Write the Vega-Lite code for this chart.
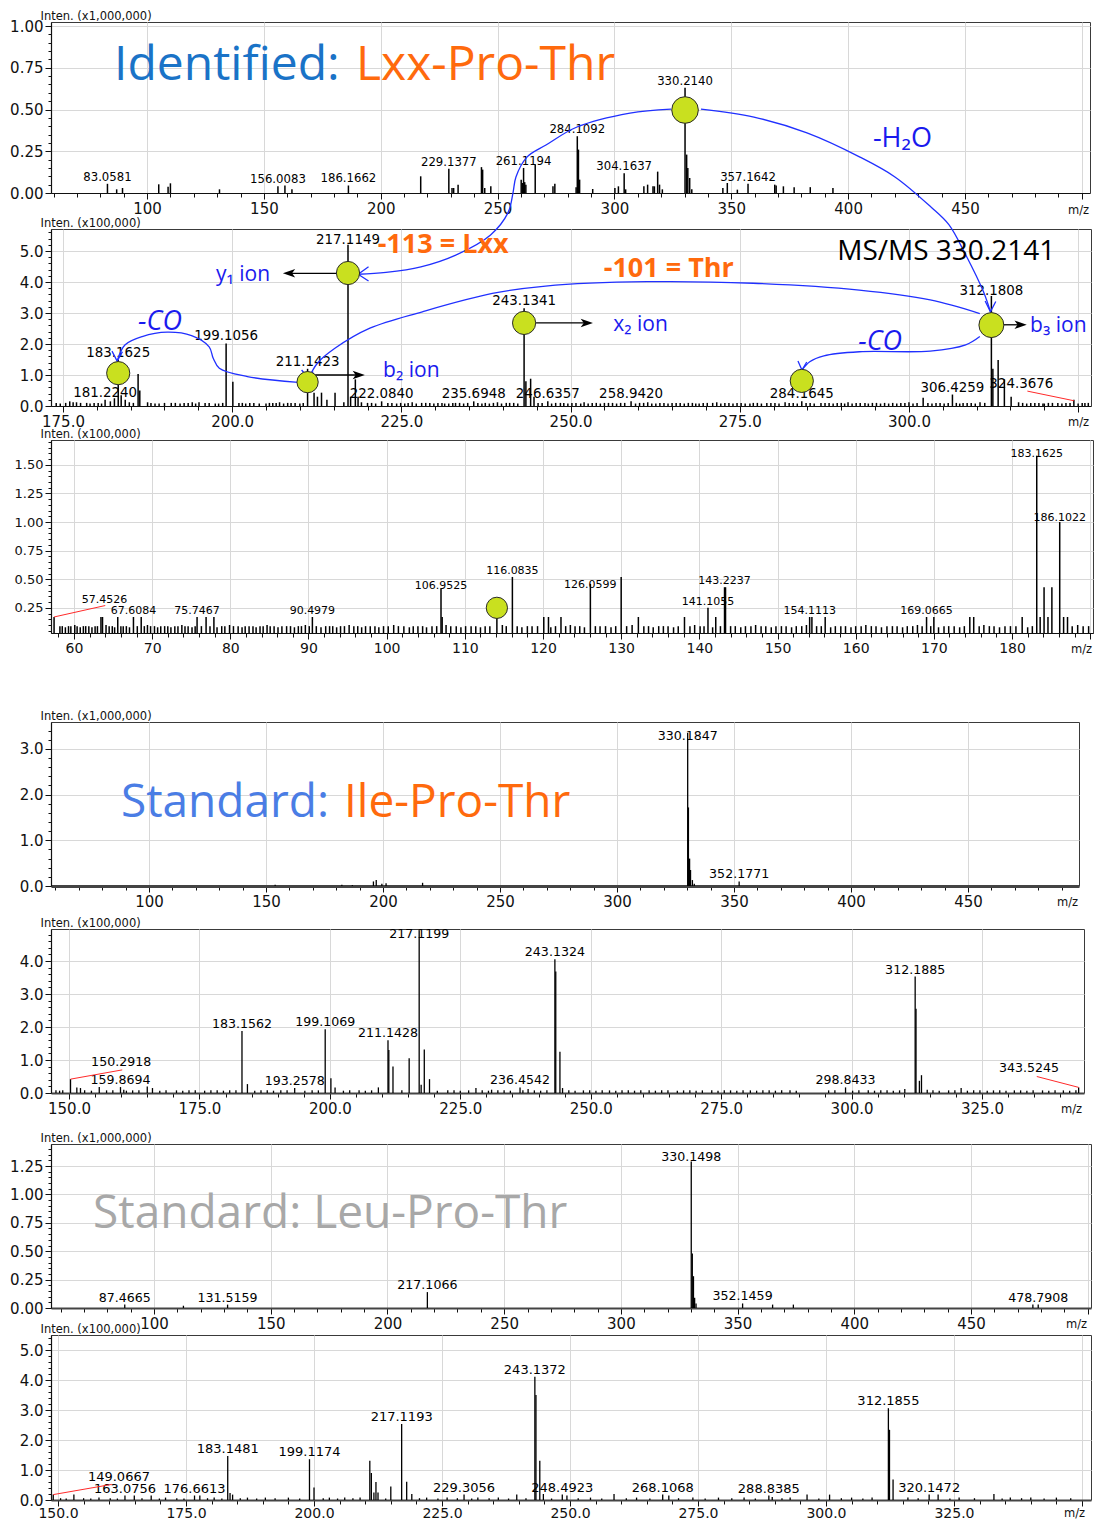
{
  "$schema": "https://vega.github.io/schema/vega-lite/v6.json",
  "background": "white",
  "padding": {"left": 9, "top": 9, "right": 0, "bottom": 0},
  "spacing": 0,
  "bounds": "flush",
  "config": {
    "view": {"stroke": "#3a3a3a", "strokeWidth": 1},
    "axis": {
      "labelFont": "DejaVu Sans", "labelFontSize": 15, "labelColor": "#111",
      "titleFont": "DejaVu Sans", "titleFontWeight": "normal", "titleColor": "#111",
      "domainColor": "#111", "domainWidth": 1.2, "tickColor": "#111", "tickWidth": 1,
      "gridColor": "#d8d8d8", "gridWidth": 1,
      "labelOverlap": false, "labelFlush": false, "labelBound": false, "labelPadding": 2
    }
  },
  "datasets": {
    "p1": [
      {"mz":83.0581,"i":0.055},{"mz":87.0,"i":0.022},{"mz":89.5,"i":0.03},{"mz":105.0,"i":0.052},{"mz":109.0,"i":0.038},{"mz":110.0,"i":0.058},{"mz":131.0,"i":0.022},{"mz":156.0083,"i":0.04},{"mz":159.0,"i":0.045},{"mz":162.0,"i":0.022},{"mz":186.1662,"i":0.045},{"mz":217.1,"i":0.1},{"mz":229.1377,"i":0.145},{"mz":230.5,"i":0.03},{"mz":231.2,"i":0.03},{"mz":233.1,"i":0.05},{"mz":243.1,"i":0.155},{"mz":243.6,"i":0.14},{"mz":244.5,"i":0.03},{"mz":247.1,"i":0.04},{"mz":260.1,"i":0.08},{"mz":260.6,"i":0.06},{"mz":261.1194,"i":0.15},{"mz":261.6,"i":0.065},{"mz":262.1,"i":0.05},{"mz":266.1,"i":0.17},{"mz":273.7,"i":0.04},{"mz":274.5,"i":0.055},{"mz":283.6,"i":0.035},{"mz":284.1092,"i":0.34},{"mz":284.6,"i":0.26},{"mz":285.1,"i":0.08},{"mz":290.7,"i":0.024},{"mz":300.2,"i":0.03},{"mz":301.7,"i":0.04},{"mz":304.1637,"i":0.118},{"mz":304.8,"i":0.022},{"mz":312.6,"i":0.04},{"mz":314.2,"i":0.05},{"mz":316.5,"i":0.04},{"mz":317.1,"i":0.04},{"mz":318.5,"i":0.128},{"mz":319.3,"i":0.05},{"mz":320.5,"i":0.022},{"mz":330.214,"i":0.63},{"mz":330.9,"i":0.23},{"mz":331.4,"i":0.15},{"mz":332.2,"i":0.09},{"mz":333.1,"i":0.022},{"mz":346.4,"i":0.03},{"mz":348.3,"i":0.06},{"mz":352.6,"i":0.02},{"mz":357.1642,"i":0.055},{"mz":368.6,"i":0.05},{"mz":369.2,"i":0.045},{"mz":372.3,"i":0.04},{"mz":376.9,"i":0.035},{"mz":383.8,"i":0.035},{"mz":393.5,"i":0.03}
    ],
    "l1": [
      {"t":"83.0581","mz":83.0581,"i":0.055},{"t":"156.0083","mz":156.0083,"i":0.04},{"t":"186.1662","mz":186.1662,"i":0.045},{"t":"229.1377","mz":229.1377,"i":0.145},{"t":"261.1194","mz":261.1194,"i":0.15},{"t":"284.1092","mz":284.1092,"i":0.34},{"t":"304.1637","mz":304.1637,"i":0.118},{"t":"330.2140","mz":330.214,"i":0.63},{"t":"357.1642","mz":357.1642,"i":0.055}
    ],
    "p2": [
      {"mz":176.0,"i":0.15},{"mz":176.5,"i":0.12},{"mz":178.5,"i":0.1},{"mz":181.224,"i":0.2},{"mz":182.0,"i":0.15},{"mz":182.6,"i":0.25},{"mz":183.1625,"i":1.5},{"mz":183.6,"i":0.35},{"mz":184.2,"i":0.2},{"mz":184.8,"i":0.12},{"mz":186.1,"i":1.03},{"mz":186.35,"i":0.5},{"mz":187.5,"i":0.12},{"mz":189.2,"i":0.08},{"mz":191.0,"i":0.1},{"mz":195.1,"i":0.12},{"mz":197.5,"i":0.08},{"mz":199.1056,"i":2.02},{"mz":200.1,"i":0.78},{"mz":201.5,"i":0.1},{"mz":204.0,"i":0.08},{"mz":206.5,"i":0.1},{"mz":209.3,"i":0.1},{"mz":211.1423,"i":1.2},{"mz":212.1,"i":0.43},{"mz":212.6,"i":0.3},{"mz":213.2,"i":0.43},{"mz":214.0,"i":0.2},{"mz":215.2,"i":0.43},{"mz":216.5,"i":0.12},{"mz":217.1149,"i":5.2},{"mz":217.5,"i":0.3},{"mz":218.2,"i":0.86},{"mz":218.6,"i":0.3},{"mz":219.1,"i":0.12},{"mz":220.0,"i":0.1},{"mz":222.084,"i":0.15},{"mz":225.5,"i":0.08},{"mz":228.0,"i":0.1},{"mz":231.4,"i":0.08},{"mz":233.0,"i":0.1},{"mz":235.6948,"i":0.15},{"mz":238.0,"i":0.08},{"mz":240.5,"i":0.1},{"mz":243.1341,"i":3.15},{"mz":243.4,"i":0.8},{"mz":244.1,"i":0.88},{"mz":244.6,"i":0.3},{"mz":246.6357,"i":0.15},{"mz":248.5,"i":0.1},{"mz":251.5,"i":0.08},{"mz":255.0,"i":0.1},{"mz":258.942,"i":0.15},{"mz":262.0,"i":0.08},{"mz":265.6,"i":0.1},{"mz":268.5,"i":0.08},{"mz":271.0,"i":0.1},{"mz":276.5,"i":0.08},{"mz":279.0,"i":0.1},{"mz":281.7,"i":0.12},{"mz":284.1645,"i":0.15},{"mz":287.0,"i":0.1},{"mz":290.5,"i":0.08},{"mz":293.5,"i":0.1},{"mz":297.0,"i":0.08},{"mz":302.1,"i":0.27},{"mz":306.4259,"i":0.37},{"mz":308.0,"i":0.1},{"mz":310.5,"i":0.12},{"mz":312.1808,"i":3.55},{"mz":312.4,"i":1.2},{"mz":313.18,"i":1.48},{"mz":314.1,"i":0.86},{"mz":315.1,"i":0.3},{"mz":316.2,"i":0.12},{"mz":318.0,"i":0.1},{"mz":320.0,"i":0.08},{"mz":322.0,"i":0.1},{"mz":324.3676,"i":0.2},{"mz":326.0,"i":0.1},
      {"mz":174.0,"i":0.1},{"mz":174.6,"i":0.08},{"mz":175.4,"i":0.1},{"mz":177.0,"i":0.12},{"mz":177.6,"i":0.1},{"mz":179.0,"i":0.08},{"mz":179.6,"i":0.1},{"mz":180.2,"i":0.1},{"mz":180.7,"i":0.08},{"mz":185.4,"i":0.1},{"mz":188.0,"i":0.1},{"mz":188.6,"i":0.08},{"mz":190.0,"i":0.1},{"mz":191.6,"i":0.1},{"mz":192.3,"i":0.08},{"mz":192.9,"i":0.1},{"mz":193.5,"i":0.1},{"mz":194.1,"i":0.12},{"mz":194.6,"i":0.08},{"mz":196.0,"i":0.1},{"mz":196.6,"i":0.1},{"mz":198.0,"i":0.08},{"mz":198.6,"i":0.1},{"mz":201.0,"i":0.1},{"mz":202.0,"i":0.08},{"mz":202.6,"i":0.1},{"mz":203.2,"i":0.1},{"mz":205.0,"i":0.08},{"mz":205.5,"i":0.1},{"mz":206.0,"i":0.1},{"mz":207.0,"i":0.12},{"mz":207.6,"i":0.08},{"mz":208.2,"i":0.1},{"mz":208.7,"i":0.1},{"mz":210.0,"i":0.08},{"mz":210.5,"i":0.1},{"mz":220.6,"i":0.1},{"mz":221.2,"i":0.08},{"mz":223.0,"i":0.1},{"mz":223.6,"i":0.1},{"mz":224.3,"i":0.08},{"mz":224.9,"i":0.1},{"mz":226.0,"i":0.1},{"mz":226.6,"i":0.12},{"mz":227.2,"i":0.08},{"mz":228.6,"i":0.1},{"mz":229.2,"i":0.1},{"mz":229.8,"i":0.08},{"mz":230.4,"i":0.1},{"mz":231.0,"i":0.1},{"mz":232.0,"i":0.08},{"mz":232.6,"i":0.1},{"mz":233.6,"i":0.1},{"mz":234.2,"i":0.08},{"mz":234.8,"i":0.1},{"mz":236.3,"i":0.1},{"mz":236.9,"i":0.08},{"mz":237.4,"i":0.1},{"mz":238.6,"i":0.1},{"mz":239.2,"i":0.12},{"mz":239.8,"i":0.08},{"mz":241.0,"i":0.1},{"mz":241.6,"i":0.1},{"mz":242.2,"i":0.08},{"mz":245.2,"i":0.1},{"mz":245.8,"i":0.1},{"mz":247.2,"i":0.08},{"mz":247.8,"i":0.1},{"mz":249.0,"i":0.1},{"mz":249.6,"i":0.08},{"mz":250.2,"i":0.1},{"mz":250.8,"i":0.1},{"mz":252.0,"i":0.12},{"mz":252.6,"i":0.08},{"mz":253.2,"i":0.1},{"mz":253.8,"i":0.1},{"mz":254.4,"i":0.08},{"mz":255.6,"i":0.1},{"mz":256.2,"i":0.1},{"mz":256.8,"i":0.08},{"mz":257.4,"i":0.1},{"mz":258.0,"i":0.1},{"mz":259.6,"i":0.08},{"mz":260.2,"i":0.1},{"mz":260.8,"i":0.1},{"mz":261.4,"i":0.12},{"mz":262.6,"i":0.08},{"mz":263.2,"i":0.1},{"mz":263.8,"i":0.1},{"mz":264.4,"i":0.08},{"mz":265.0,"i":0.1},{"mz":266.2,"i":0.1},{"mz":266.8,"i":0.08},{"mz":267.4,"i":0.1},{"mz":268.0,"i":0.1},{"mz":269.0,"i":0.08},{"mz":269.6,"i":0.1},{"mz":270.2,"i":0.1},{"mz":271.6,"i":0.12},{"mz":272.2,"i":0.08},{"mz":272.8,"i":0.1},{"mz":273.4,"i":0.1},{"mz":274.0,"i":0.08},{"mz":274.6,"i":0.1},{"mz":275.2,"i":0.1},{"mz":275.8,"i":0.08},{"mz":277.0,"i":0.1},{"mz":277.6,"i":0.1},{"mz":278.2,"i":0.08},{"mz":279.6,"i":0.1},{"mz":280.2,"i":0.1},{"mz":280.8,"i":0.08},{"mz":282.3,"i":0.1},{"mz":282.9,"i":0.1},{"mz":283.5,"i":0.08},{"mz":284.8,"i":0.1},{"mz":285.4,"i":0.1},{"mz":286.0,"i":0.08},{"mz":287.6,"i":0.1},{"mz":288.2,"i":0.1},{"mz":288.8,"i":0.08},{"mz":289.4,"i":0.1},{"mz":290.0,"i":0.1},{"mz":291.0,"i":0.12},{"mz":291.6,"i":0.08},{"mz":292.2,"i":0.1},{"mz":292.8,"i":0.1},{"mz":294.0,"i":0.08},{"mz":294.6,"i":0.1},{"mz":295.2,"i":0.1},{"mz":295.8,"i":0.08},{"mz":296.4,"i":0.1},{"mz":297.6,"i":0.1},{"mz":298.2,"i":0.08},{"mz":298.8,"i":0.1},{"mz":299.4,"i":0.1},{"mz":300.0,"i":0.12},{"mz":300.6,"i":0.08},{"mz":301.2,"i":0.1},{"mz":302.8,"i":0.1},{"mz":303.4,"i":0.08},{"mz":304.0,"i":0.1},{"mz":304.6,"i":0.1},{"mz":305.2,"i":0.08},{"mz":305.8,"i":0.1},{"mz":307.0,"i":0.1},{"mz":307.5,"i":0.08},{"mz":308.6,"i":0.1},{"mz":309.2,"i":0.1},{"mz":309.8,"i":0.08},{"mz":311.2,"i":0.1},{"mz":316.8,"i":0.1},{"mz":317.4,"i":0.08},{"mz":318.6,"i":0.1},{"mz":319.2,"i":0.1},{"mz":319.8,"i":0.08},{"mz":320.6,"i":0.1},{"mz":321.2,"i":0.1},{"mz":322.6,"i":0.08},{"mz":323.2,"i":0.1},{"mz":323.8,"i":0.1},{"mz":325.0,"i":0.08},{"mz":325.6,"i":0.1},{"mz":326.5,"i":0.1}
    ],
    "l2": [
      {"t":"181.2240","mz":181.224,"i":0.2},{"t":"183.1625","mz":183.1625,"i":1.5},{"t":"199.1056","mz":199.1056,"i":2.02},{"t":"211.1423","mz":211.1423,"i":1.2},{"t":"217.1149","mz":217.1149,"i":5.13},{"t":"222.0840","mz":222.084,"i":0.15},{"t":"235.6948","mz":235.6948,"i":0.15},{"t":"243.1341","mz":243.1341,"i":3.15},{"t":"246.6357","mz":246.6357,"i":0.15},{"t":"258.9420","mz":258.942,"i":0.15},{"t":"284.1645","mz":284.1645,"i":0.15},{"t":"306.4259","mz":306.4259,"i":0.37},{"t":"312.1808","mz":312.1808,"i":3.5},{"t":"324.3676","mz":316.6,"i":0.5}
    ],
    "cv": [
      {"id":"h2o_r","k":0,"mz":269.27,"i":9.58},{"id":"h2o_r","k":1,"mz":277.1,"i":9.32},{"id":"h2o_r","k":2,"mz":284.93,"i":8.81},{"id":"h2o_r","k":3,"mz":292.76,"i":8.03},{"id":"h2o_r","k":4,"mz":297.93,"i":7.39},{"id":"h2o_r","k":5,"mz":303.25,"i":6.42},{"id":"h2o_r","k":6,"mz":305.9,"i":5.85},{"id":"h2o_r","k":7,"mz":308.4,"i":4.87},{"id":"h2o_r","k":8,"mz":311.0,"i":3.69},{"id":"h2o_r","k":9,"mz":312.04,"i":3.04},
      {"id":"h2o_l","k":0,"mz":264.84,"i":9.58},{"id":"h2o_l","k":1,"mz":258.78,"i":9.45},{"id":"h2o_l","k":2,"mz":250.95,"i":9.0},{"id":"h2o_l","k":3,"mz":246.37,"i":8.42},{"id":"h2o_l","k":4,"mz":243.56,"i":8.03},{"id":"h2o_l","k":5,"mz":241.93,"i":7.39},{"id":"h2o_l","k":6,"mz":241.49,"i":6.87},{"id":"h2o_l","k":7,"mz":240.75,"i":6.23},{"id":"h2o_l","k":8,"mz":238.18,"i":5.52},{"id":"h2o_l","k":9,"mz":233.04,"i":4.87},{"id":"h2o_l","k":10,"mz":227.88,"i":4.49},{"id":"h2o_l","k":11,"mz":222.73,"i":4.31},{"id":"h2o_l","k":12,"mz":218.62,"i":4.25},
      {"id":"thr","k":0,"mz":310.47,"i":2.98},{"id":"thr","k":1,"mz":303.14,"i":3.42},{"id":"thr","k":2,"mz":292.67,"i":3.74},{"id":"thr","k":3,"mz":276.96,"i":3.96},{"id":"thr","k":4,"mz":261.26,"i":4.01},{"id":"thr","k":5,"mz":246.3,"i":3.87},{"id":"thr","k":6,"mz":238.44,"i":3.63},{"id":"thr","k":7,"mz":228.1,"i":3.04},{"id":"thr","k":8,"mz":220.35,"i":2.51},{"id":"thr","k":9,"mz":215.18,"i":1.86},{"id":"thr","k":10,"mz":212.59,"i":1.38},{"id":"thr","k":11,"mz":211.3,"i":0.89},
      {"id":"co1","k":0,"mz":209.75,"i":0.76},{"id":"co1","k":1,"mz":202.25,"i":0.95},{"id":"co1","k":2,"mz":198.1,"i":1.22},{"id":"co1","k":3,"mz":197.2,"i":1.54},{"id":"co1","k":4,"mz":196.6,"i":1.91},{"id":"co1","k":5,"mz":194.0,"i":2.27},{"id":"co1","k":6,"mz":190.4,"i":2.38},{"id":"co1","k":7,"mz":186.7,"i":2.24},{"id":"co1","k":8,"mz":184.15,"i":1.97},{"id":"co1","k":9,"mz":183.0,"i":1.45},
      {"id":"co2","k":0,"mz":310.47,"i":2.24},{"id":"co2","k":1,"mz":308.38,"i":1.97},{"id":"co2","k":2,"mz":303.14,"i":1.77},{"id":"co2","k":3,"mz":292.67,"i":1.75},{"id":"co2","k":4,"mz":287.43,"i":1.62},{"id":"co2","k":5,"mz":285.34,"i":1.43},{"id":"co2","k":6,"mz":284.19,"i":1.16}
    ],
    "hd": [
      {"id":"hl","k":0,"mz":220.15,"i":4.49},{"id":"hl","k":1,"mz":218.62,"i":4.25},{"id":"hl","k":2,"mz":220.15,"i":4.03},
      {"id":"hr","k":0,"mz":311.26,"i":3.39},{"id":"hr","k":1,"mz":312.04,"i":3.04},{"id":"hr","k":2,"mz":312.83,"i":3.37},
      {"id":"ht","k":0,"mz":210.26,"i":1.16},{"id":"ht","k":1,"mz":211.3,"i":0.89},{"id":"ht","k":2,"mz":211.97,"i":1.11},
      {"id":"hc1","k":0,"mz":182.24,"i":1.77},{"id":"hc1","k":1,"mz":183.0,"i":1.45},{"id":"hc1","k":2,"mz":183.79,"i":1.75},
      {"id":"hc2","k":0,"mz":283.6,"i":1.45},{"id":"hc2","k":1,"mz":284.19,"i":1.16},{"id":"hc2","k":2,"mz":284.9,"i":1.42}
    ],
    "arw": [
      {"mz":208.4,"mz0":215.6,"i":4.28,"dir":"left"},{"mz":218.7,"mz0":212.2,"i":1.0,"dir":"right"},{"mz":252.4,"mz0":244.9,"i":2.68,"dir":"right"},{"mz":316.5,"mz0":313.6,"i":2.62,"dir":"right"}
    ],
    "c2": [
      {"mz":183.1625,"i":1.06,"role":"fragment"},{"mz":211.1423,"i":0.77,"role":"minor"},{"mz":217.1149,"i":4.29,"role":"fragment"},{"mz":243.1341,"i":2.68,"role":"fragment"},{"mz":284.1645,"i":0.81,"role":"fragment"},{"mz":312.1808,"i":2.61,"role":"major"}
    ],
    "p3": [
      {"mz":57.4526,"i":0.17},{"mz":63.45,"i":0.17},{"mz":63.65,"i":0.17},{"mz":65.6,"i":0.17},{"mz":67.6084,"i":0.17},{"mz":68.6,"i":0.17},{"mz":75.7467,"i":0.17},{"mz":76.9,"i":0.17},{"mz":77.9,"i":0.17},{"mz":90.4979,"i":0.17},{"mz":106.9525,"i":0.42},{"mz":107.1,"i":0.17},{"mz":114.1,"i":0.17},{"mz":116.0835,"i":0.52},{"mz":120.1,"i":0.17},{"mz":120.7,"i":0.17},{"mz":122.3,"i":0.17},{"mz":126.0599,"i":0.46},{"mz":130.0,"i":0.52},{"mz":132.2,"i":0.17},{"mz":138.1,"i":0.17},{"mz":141.1055,"i":0.25},{"mz":142.1,"i":0.17},{"mz":143.2237,"i":0.43},{"mz":143.35,"i":0.43},{"mz":154.1113,"i":0.17},{"mz":154.4,"i":0.17},{"mz":156.1,"i":0.17},{"mz":169.0665,"i":0.17},{"mz":170.0,"i":0.17},{"mz":174.6,"i":0.17},{"mz":175.1,"i":0.17},{"mz":181.3,"i":0.17},{"mz":183.1625,"i":1.58},{"mz":183.6,"i":0.17},{"mz":184.1,"i":0.43},{"mz":184.6,"i":0.17},{"mz":185.1,"i":0.43},{"mz":186.1022,"i":1.0},{"mz":186.6,"i":0.17},{"mz":187.1,"i":0.17},
      {"mz":58.2,"i":0.09},{"mz":58.5,"i":0.09},{"mz":58.9,"i":0.08},{"mz":59.3,"i":0.09},{"mz":59.6,"i":0.09},{"mz":60.1,"i":0.1},{"mz":60.4,"i":0.09},{"mz":60.8,"i":0.08},{"mz":61.2,"i":0.09},{"mz":61.5,"i":0.09},{"mz":61.9,"i":0.09},{"mz":62.3,"i":0.08},{"mz":62.7,"i":0.09},{"mz":63.0,"i":0.09},{"mz":64.1,"i":0.1},{"mz":64.5,"i":0.09},{"mz":64.9,"i":0.09},{"mz":65.2,"i":0.08},{"mz":66.0,"i":0.09},{"mz":66.3,"i":0.09},{"mz":66.7,"i":0.09},{"mz":67.1,"i":0.08},{"mz":68.1,"i":0.09},{"mz":69.0,"i":0.09},{"mz":69.4,"i":0.1},{"mz":69.8,"i":0.09},{"mz":70.3,"i":0.09},{"mz":70.7,"i":0.08},{"mz":71.1,"i":0.09},{"mz":71.6,"i":0.09},{"mz":72.0,"i":0.09},{"mz":72.4,"i":0.08},{"mz":72.9,"i":0.09},{"mz":73.3,"i":0.09},{"mz":73.8,"i":0.1},{"mz":74.2,"i":0.09},{"mz":74.6,"i":0.09},{"mz":75.1,"i":0.08},{"mz":75.5,"i":0.09},{"mz":76.3,"i":0.09},{"mz":77.4,"i":0.09},{"mz":78.3,"i":0.08},{"mz":78.9,"i":0.09},{"mz":79.3,"i":0.09},{"mz":79.9,"i":0.1},{"mz":80.4,"i":0.09},{"mz":81.0,"i":0.09},{"mz":81.5,"i":0.08},{"mz":81.9,"i":0.09},{"mz":82.4,"i":0.09},{"mz":82.9,"i":0.09},{"mz":83.3,"i":0.08},{"mz":83.8,"i":0.09},{"mz":84.2,"i":0.09},{"mz":84.7,"i":0.1},{"mz":85.1,"i":0.09},{"mz":85.6,"i":0.09},{"mz":86.1,"i":0.08},{"mz":86.6,"i":0.09},{"mz":87.2,"i":0.09},{"mz":87.7,"i":0.09},{"mz":88.2,"i":0.08},{"mz":88.7,"i":0.09},{"mz":89.1,"i":0.09},{"mz":89.6,"i":0.1},{"mz":90.1,"i":0.09},{"mz":91.0,"i":0.09},{"mz":91.6,"i":0.08},{"mz":92.2,"i":0.09},{"mz":92.7,"i":0.09},{"mz":93.1,"i":0.09},{"mz":93.6,"i":0.08},{"mz":94.1,"i":0.09},{"mz":94.6,"i":0.09},{"mz":95.2,"i":0.1},{"mz":95.8,"i":0.09},{"mz":96.3,"i":0.09},{"mz":96.8,"i":0.08},{"mz":97.3,"i":0.09},{"mz":97.9,"i":0.09},{"mz":98.5,"i":0.09},{"mz":99.0,"i":0.08},{"mz":99.6,"i":0.09},{"mz":100.2,"i":0.09},{"mz":100.9,"i":0.1},{"mz":101.5,"i":0.09},{"mz":102.2,"i":0.09},{"mz":102.9,"i":0.08},{"mz":103.4,"i":0.09},{"mz":104.0,"i":0.09},{"mz":104.6,"i":0.09},{"mz":105.1,"i":0.08},{"mz":105.8,"i":0.09},{"mz":106.4,"i":0.09},{"mz":107.6,"i":0.1},{"mz":108.2,"i":0.09},{"mz":108.9,"i":0.09},{"mz":109.5,"i":0.08},{"mz":110.1,"i":0.09},{"mz":110.8,"i":0.09},{"mz":111.4,"i":0.09},{"mz":112.0,"i":0.08},{"mz":112.6,"i":0.09},{"mz":113.2,"i":0.09},{"mz":114.8,"i":0.1},{"mz":115.3,"i":0.09},{"mz":116.7,"i":0.09},{"mz":117.3,"i":0.08},{"mz":118.0,"i":0.09},{"mz":118.6,"i":0.09},{"mz":119.3,"i":0.09},{"mz":121.0,"i":0.08},{"mz":121.6,"i":0.09},{"mz":122.9,"i":0.09},{"mz":123.5,"i":0.1},{"mz":124.1,"i":0.09},{"mz":124.7,"i":0.09},{"mz":125.3,"i":0.08},{"mz":126.7,"i":0.09},{"mz":127.3,"i":0.09},{"mz":128.0,"i":0.09},{"mz":128.7,"i":0.08},{"mz":129.3,"i":0.09},{"mz":130.7,"i":0.09},{"mz":131.4,"i":0.1},{"mz":132.9,"i":0.09},{"mz":133.5,"i":0.09},{"mz":134.1,"i":0.08},{"mz":134.8,"i":0.09},{"mz":135.4,"i":0.09},{"mz":136.0,"i":0.09},{"mz":136.7,"i":0.08},{"mz":137.3,"i":0.09},{"mz":138.8,"i":0.09},{"mz":139.4,"i":0.1},{"mz":140.1,"i":0.09},{"mz":140.6,"i":0.09},{"mz":141.7,"i":0.08},{"mz":142.7,"i":0.09},{"mz":144.0,"i":0.09},{"mz":144.6,"i":0.09},{"mz":145.3,"i":0.08},{"mz":145.9,"i":0.09},{"mz":146.6,"i":0.09},{"mz":147.2,"i":0.1},{"mz":147.9,"i":0.09},{"mz":148.5,"i":0.09},{"mz":149.2,"i":0.08},{"mz":149.8,"i":0.09},{"mz":150.5,"i":0.09},{"mz":151.1,"i":0.09},{"mz":151.8,"i":0.08},{"mz":152.4,"i":0.09},{"mz":153.1,"i":0.09},{"mz":153.7,"i":0.1},{"mz":155.0,"i":0.09},{"mz":155.6,"i":0.09},{"mz":156.8,"i":0.08},{"mz":157.4,"i":0.09},{"mz":158.1,"i":0.09},{"mz":158.7,"i":0.09},{"mz":159.4,"i":0.08},{"mz":160.0,"i":0.09},{"mz":160.7,"i":0.09},{"mz":161.3,"i":0.1},{"mz":162.0,"i":0.09},{"mz":162.6,"i":0.09},{"mz":163.3,"i":0.08},{"mz":164.0,"i":0.09},{"mz":164.7,"i":0.09},{"mz":165.3,"i":0.09},{"mz":166.0,"i":0.08},{"mz":166.6,"i":0.09},{"mz":167.3,"i":0.09},{"mz":167.9,"i":0.1},{"mz":168.5,"i":0.09},{"mz":169.6,"i":0.09},{"mz":170.6,"i":0.08},{"mz":171.3,"i":0.09},{"mz":171.9,"i":0.09},{"mz":172.6,"i":0.09},{"mz":173.3,"i":0.08},{"mz":173.9,"i":0.09},{"mz":175.8,"i":0.09},{"mz":176.4,"i":0.1},{"mz":177.1,"i":0.09},{"mz":177.7,"i":0.09},{"mz":178.4,"i":0.08},{"mz":179.1,"i":0.09},{"mz":179.8,"i":0.09},{"mz":180.5,"i":0.09},{"mz":182.0,"i":0.08},{"mz":182.6,"i":0.09},{"mz":187.7,"i":0.09},{"mz":188.4,"i":0.1},{"mz":189.1,"i":0.09},{"mz":189.8,"i":0.09}
    ],
    "l3": [
      {"t":"57.4526","mz":63.9,"i":0.27},{"t":"67.6084","mz":67.6084,"i":0.17},{"t":"75.7467","mz":75.7467,"i":0.17},{"t":"90.4979","mz":90.4979,"i":0.17},{"t":"106.9525","mz":106.9525,"i":0.39},{"t":"116.0835","mz":116.0835,"i":0.52},{"t":"126.0599","mz":126.0599,"i":0.4},{"t":"141.1055","mz":141.1055,"i":0.25},{"t":"143.2237","mz":143.2237,"i":0.43},{"t":"154.1113","mz":154.1113,"i":0.17},{"t":"169.0665","mz":169.0665,"i":0.17},{"t":"183.1625","mz":183.1625,"i":1.54},{"t":"186.1022","mz":186.1022,"i":0.98}
    ],
    "p4": [
      {"mz":153.9,"i":0.03},{"mz":182.4,"i":0.03},{"mz":186.9,"i":0.02},{"mz":195.9,"i":0.1},{"mz":197.1,"i":0.13},{"mz":199.5,"i":0.05},{"mz":201.3,"i":0.06},{"mz":216.9,"i":0.07},{"mz":330.1847,"i":3.35},{"mz":330.5,"i":1.72},{"mz":331.0,"i":0.6},{"mz":331.4,"i":0.35},{"mz":332.2,"i":0.13},{"mz":333.0,"i":0.05},{"mz":352.1771,"i":0.1}
    ],
    "l4": [
      {"t":"330.1847","mz":330.1847,"i":3.12},{"t":"352.1771","mz":352.1771,"i":0.1}
    ],
    "p5": [
      {"mz":150.2918,"i":0.42},{"mz":151.5,"i":0.17},{"mz":152.2,"i":0.15},{"mz":155.8,"i":0.18},{"mz":159.8694,"i":0.18},{"mz":160.5,"i":0.1},{"mz":165.0,"i":0.2},{"mz":166.0,"i":0.15},{"mz":183.1562,"i":1.88},{"mz":184.2,"i":0.27},{"mz":193.2578,"i":0.15},{"mz":199.1069,"i":1.93},{"mz":200.2,"i":0.45},{"mz":201.0,"i":0.17},{"mz":209.3,"i":0.17},{"mz":211.1428,"i":1.6},{"mz":211.3,"i":1.3},{"mz":212.1,"i":0.8},{"mz":215.2,"i":1.05},{"mz":217.1199,"i":4.93},{"mz":217.5,"i":0.25},{"mz":218.1,"i":1.32},{"mz":219.1,"i":0.42},{"mz":228.0,"i":0.15},{"mz":231.0,"i":0.1},{"mz":236.4542,"i":0.17},{"mz":238.0,"i":0.12},{"mz":243.1324,"i":4.05},{"mz":243.3,"i":3.68},{"mz":244.1,"i":1.25},{"mz":244.6,"i":0.15},{"mz":298.8433,"i":0.17},{"mz":310.2,"i":0.12},{"mz":312.1885,"i":3.53},{"mz":312.35,"i":2.55},{"mz":313.0,"i":0.37},{"mz":313.4,"i":0.54},{"mz":314.5,"i":0.1},{"mz":321.0,"i":0.15},{"mz":343.5245,"i":0.17},
      {"mz":147.5,"i":0.08},{"mz":148.2,"i":0.07},{"mz":148.8,"i":0.08},{"mz":153.0,"i":0.08},{"mz":154.3,"i":0.07},{"mz":157.2,"i":0.08},{"mz":158.4,"i":0.08},{"mz":161.0,"i":0.07},{"mz":162.2,"i":0.08},{"mz":163.4,"i":0.08},{"mz":167.4,"i":0.07},{"mz":168.6,"i":0.08},{"mz":170.6,"i":0.08},{"mz":171.8,"i":0.07},{"mz":173.0,"i":0.08},{"mz":174.2,"i":0.08},{"mz":176.0,"i":0.07},{"mz":177.2,"i":0.08},{"mz":178.4,"i":0.08},{"mz":179.6,"i":0.07},{"mz":180.8,"i":0.08},{"mz":182.0,"i":0.08},{"mz":185.6,"i":0.07},{"mz":186.8,"i":0.08},{"mz":188.0,"i":0.08},{"mz":189.2,"i":0.07},{"mz":190.6,"i":0.08},{"mz":191.8,"i":0.08},{"mz":195.2,"i":0.07},{"mz":196.6,"i":0.08},{"mz":197.8,"i":0.08},{"mz":202.6,"i":0.07},{"mz":203.8,"i":0.08},{"mz":205.6,"i":0.08},{"mz":206.8,"i":0.07},{"mz":208.0,"i":0.08},{"mz":213.8,"i":0.08},{"mz":220.6,"i":0.07},{"mz":222.6,"i":0.08},{"mz":223.8,"i":0.08},{"mz":225.0,"i":0.07},{"mz":226.6,"i":0.08},{"mz":229.2,"i":0.08},{"mz":230.4,"i":0.07},{"mz":232.2,"i":0.08},{"mz":233.4,"i":0.08},{"mz":234.6,"i":0.07},{"mz":237.0,"i":0.08},{"mz":239.2,"i":0.08},{"mz":240.4,"i":0.07},{"mz":241.6,"i":0.08},{"mz":245.8,"i":0.08},{"mz":247.0,"i":0.07},{"mz":248.6,"i":0.08},{"mz":249.8,"i":0.08},{"mz":251.0,"i":0.07},{"mz":252.2,"i":0.08},{"mz":253.6,"i":0.08},{"mz":254.8,"i":0.07},{"mz":256.0,"i":0.08},{"mz":257.2,"i":0.08},{"mz":258.4,"i":0.07},{"mz":259.6,"i":0.08},{"mz":261.2,"i":0.08},{"mz":262.4,"i":0.07},{"mz":263.6,"i":0.08},{"mz":264.8,"i":0.08},{"mz":266.6,"i":0.07},{"mz":267.8,"i":0.08},{"mz":269.0,"i":0.08},{"mz":270.2,"i":0.07},{"mz":271.4,"i":0.08},{"mz":273.2,"i":0.08},{"mz":274.4,"i":0.07},{"mz":275.6,"i":0.08},{"mz":276.8,"i":0.08},{"mz":278.0,"i":0.07},{"mz":279.2,"i":0.08},{"mz":280.6,"i":0.08},{"mz":281.8,"i":0.07},{"mz":283.0,"i":0.08},{"mz":284.2,"i":0.08},{"mz":285.4,"i":0.07},{"mz":286.6,"i":0.08},{"mz":288.2,"i":0.08},{"mz":289.4,"i":0.07},{"mz":295.6,"i":0.08},{"mz":296.8,"i":0.08},{"mz":300.2,"i":0.07},{"mz":301.4,"i":0.08},{"mz":303.2,"i":0.08},{"mz":304.4,"i":0.07},{"mz":305.6,"i":0.08},{"mz":306.8,"i":0.08},{"mz":308.0,"i":0.07},{"mz":309.2,"i":0.08},{"mz":315.6,"i":0.08},{"mz":316.8,"i":0.07},{"mz":318.6,"i":0.08},{"mz":319.8,"i":0.08},{"mz":322.2,"i":0.07},{"mz":323.4,"i":0.08},{"mz":324.6,"i":0.08},{"mz":326.0,"i":0.07},{"mz":327.2,"i":0.08},{"mz":328.4,"i":0.08},{"mz":329.6,"i":0.07},{"mz":331.2,"i":0.08},{"mz":332.4,"i":0.08},{"mz":333.6,"i":0.07},{"mz":334.8,"i":0.08},{"mz":336.6,"i":0.08},{"mz":337.8,"i":0.07},{"mz":339.0,"i":0.08},{"mz":340.6,"i":0.08},{"mz":341.8,"i":0.07},{"mz":343.0,"i":0.08}
    ],
    "l5": [
      {"t":"150.2918","mz":160.0,"i":0.73},{"t":"159.8694","mz":159.8694,"i":0.18},{"t":"183.1562","mz":183.1562,"i":1.88},{"t":"193.2578","mz":193.2578,"i":0.15},{"t":"199.1069","mz":199.1069,"i":1.93},{"t":"211.1428","mz":211.1428,"i":1.6},{"t":"217.1199","mz":217.1199,"i":4.62},{"t":"236.4542","mz":236.4542,"i":0.17},{"t":"243.1324","mz":243.1324,"i":4.05},{"t":"298.8433","mz":298.8433,"i":0.17},{"t":"312.1885","mz":312.1885,"i":3.53},{"t":"343.5245","mz":334.0,"i":0.55}
    ],
    "p6": [
      {"mz":87.4665,"i":0.03},{"mz":112.6,"i":0.02},{"mz":131.5159,"i":0.03},{"mz":217.1066,"i":0.14},{"mz":330.1498,"i":1.29},{"mz":330.6,"i":0.48},{"mz":331.1,"i":0.28},{"mz":331.6,"i":0.09},{"mz":332.2,"i":0.04},{"mz":352.1459,"i":0.04},{"mz":365.0,"i":0.03},{"mz":373.9,"i":0.03},{"mz":476.5,"i":0.03},{"mz":478.7908,"i":0.03}
    ],
    "l6": [
      {"t":"87.4665","mz":87.4665,"i":0.03},{"t":"131.5159","mz":131.5159,"i":0.03},{"t":"217.1066","mz":217.1066,"i":0.14},{"t":"330.1498","mz":330.1498,"i":1.27},{"t":"352.1459","mz":352.1459,"i":0.04},{"t":"478.7908","mz":478.7908,"i":0.03}
    ],
    "p7": [
      {"mz":149.0667,"i":0.18},{"mz":153.1,"i":0.18},{"mz":158.0,"i":0.08},{"mz":163.0756,"i":0.15},{"mz":164.9,"i":0.15},{"mz":168.2,"i":0.15},{"mz":171.0,"i":0.08},{"mz":176.6613,"i":0.15},{"mz":177.7,"i":0.15},{"mz":180.5,"i":0.08},{"mz":183.1481,"i":1.47},{"mz":183.6,"i":0.23},{"mz":184.1,"i":0.18},{"mz":187.0,"i":0.08},{"mz":190.5,"i":0.08},{"mz":195.0,"i":0.08},{"mz":199.1174,"i":1.36},{"mz":200.0,"i":0.42},{"mz":203.0,"i":0.08},{"mz":206.0,"i":0.08},{"mz":209.0,"i":0.08},{"mz":210.9,"i":1.31},{"mz":211.2,"i":0.9},{"mz":211.7,"i":0.25},{"mz":212.1,"i":0.6},{"mz":212.5,"i":0.25},{"mz":215.0,"i":0.45},{"mz":217.1193,"i":2.53},{"mz":218.1,"i":0.61},{"mz":219.1,"i":0.2},{"mz":222.0,"i":0.08},{"mz":226.0,"i":0.08},{"mz":229.3056,"i":0.18},{"mz":232.0,"i":0.08},{"mz":236.0,"i":0.08},{"mz":239.6,"i":0.18},{"mz":243.1372,"i":4.11},{"mz":243.35,"i":3.5},{"mz":244.1,"i":1.31},{"mz":244.8,"i":0.2},{"mz":248.4923,"i":0.18},{"mz":249.4,"i":0.15},{"mz":254.0,"i":0.08},{"mz":258.6,"i":0.2},{"mz":263.0,"i":0.08},{"mz":268.1068,"i":0.18},{"mz":269.3,"i":0.15},{"mz":274.0,"i":0.08},{"mz":279.0,"i":0.08},{"mz":284.0,"i":0.08},{"mz":288.8385,"i":0.15},{"mz":289.5,"i":0.1},{"mz":293.0,"i":0.08},{"mz":296.3,"i":0.18},{"mz":300.7,"i":0.18},{"mz":305.0,"i":0.08},{"mz":309.0,"i":0.08},{"mz":312.1855,"i":3.06},{"mz":312.4,"i":2.34},{"mz":313.1,"i":0.68},{"mz":316.0,"i":0.08},{"mz":320.1472,"i":0.18},{"mz":321.9,"i":0.18},{"mz":326.0,"i":0.08},{"mz":332.8,"i":0.2},{"mz":336.0,"i":0.08},{"mz":340.0,"i":0.08},{"mz":345.0,"i":0.08},
      {"mz":150.5,"i":0.06},{"mz":151.6,"i":0.05},{"mz":155.0,"i":0.06},{"mz":156.4,"i":0.05},{"mz":160.2,"i":0.06},{"mz":161.6,"i":0.05},{"mz":166.4,"i":0.06},{"mz":169.8,"i":0.05},{"mz":173.2,"i":0.06},{"mz":174.6,"i":0.05},{"mz":179.2,"i":0.06},{"mz":182.0,"i":0.05},{"mz":185.6,"i":0.06},{"mz":188.8,"i":0.05},{"mz":192.4,"i":0.06},{"mz":197.2,"i":0.05},{"mz":201.8,"i":0.06},{"mz":204.6,"i":0.05},{"mz":207.6,"i":0.06},{"mz":214.0,"i":0.05},{"mz":220.6,"i":0.06},{"mz":224.2,"i":0.05},{"mz":228.0,"i":0.06},{"mz":230.8,"i":0.05},{"mz":234.2,"i":0.06},{"mz":238.0,"i":0.05},{"mz":241.4,"i":0.06},{"mz":246.4,"i":0.05},{"mz":251.6,"i":0.06},{"mz":256.2,"i":0.05},{"mz":261.0,"i":0.06},{"mz":265.6,"i":0.05},{"mz":271.2,"i":0.06},{"mz":276.4,"i":0.05},{"mz":281.6,"i":0.06},{"mz":286.2,"i":0.05},{"mz":291.4,"i":0.06},{"mz":298.6,"i":0.05},{"mz":303.0,"i":0.06},{"mz":307.2,"i":0.05},{"mz":318.0,"i":0.06},{"mz":324.2,"i":0.05},{"mz":329.0,"i":0.06},{"mz":334.4,"i":0.05},{"mz":338.2,"i":0.06},{"mz":342.6,"i":0.05},{"mz":347.8,"i":0.06}
    ],
    "l7": [
      {"t":"149.0667","mz":161.9,"i":0.55},{"t":"163.0756","mz":163.0756,"i":0.15},{"t":"176.6613","mz":176.6613,"i":0.15},{"t":"183.1481","mz":183.1481,"i":1.47},{"t":"199.1174","mz":199.1174,"i":1.36},{"t":"217.1193","mz":217.1193,"i":2.53},{"t":"229.3056","mz":229.3056,"i":0.18},{"t":"243.1372","mz":243.1372,"i":4.11},{"t":"248.4923","mz":248.4923,"i":0.18},{"t":"268.1068","mz":268.1068,"i":0.18},{"t":"288.8385","mz":288.8385,"i":0.15},{"t":"312.1855","mz":312.1855,"i":3.06},{"t":"320.1472","mz":320.1472,"i":0.18}
    ]
  },
  "vconcat": [
    {
      "width": 1039, "height": 171,
      "encoding": {
        "x": {"field": "mz", "type": "quantitative", "scale": {"domain": [58.9, 503.5], "nice": false, "zero": false},
          "axis": {"values": [60,70,80,90,100,110,120,130,140,150,160,170,180,190,200,210,220,230,240,250,260,270,280,290,300,310,320,330,340,350,360,370,380,390,400,410,420,430,440,450,460,470,480,490,500],
            "format": "d", "labelExpr": "datum.value % 50 === 0 && datum.value < 480 ? datum.label : ''",
            "tickSize": {"condition": {"test": "datum.value % 50 === 0", "value": 6}, "value": 4},
            "gridOpacity": {"condition": {"test": "datum.value % 50 === 0", "value": 1}, "value": 0},
            "title": "m/z", "titleFontSize": 11.5, "titleX": 1027, "titleY": 20, "titleAlign": "center", "titleBaseline": "alphabetic"}},
        "y": {"field": "i", "type": "quantitative", "scale": {"domain": [0, 1.024], "nice": false, "zero": false},
          "axis": {"values": [0,0.05,0.1,0.15,0.2,0.25,0.3,0.35,0.4,0.45,0.5,0.55,0.6,0.65,0.7,0.75,0.8,0.85,0.9,0.95,1],
            "format": ".2f", "labelExpr": "abs(datum.value*4-round(datum.value*4)) < 0.001 ? datum.label : ''",
            "tickSize": {"condition": {"test": "abs(datum.value*4-round(datum.value*4)) < 0.001", "value": 6}, "value": 3},
            "gridOpacity": {"condition": {"test": "abs(datum.value*4-round(datum.value*4)) < 0.001", "value": 1}, "value": 0},
            "title": "Inten. (x1,000,000)", "titleAngle": 0, "titleAlign": "left", "titleBaseline": "alphabetic", "titleX": -11, "titleY": -3, "titleFontSize": 11.5}}
      },
      "layer": [
        {"data": {"name": "p1"}, "mark": {"type": "rule", "color": "black", "strokeWidth": 1.5}, "encoding": {"y2": {"datum": 0}}},
        {"data": {"name": "l1"}, "mark": {"type": "text", "font": "DejaVu Sans", "fontSize": 11.7, "dy": -3, "baseline": "alphabetic", "align": "center", "color": "black"}, "encoding": {"text": {"field": "t"}}},
        {"data": {"values": [{"mz": 330.214, "i": 0.497, "role": "precursor"}]},
          "mark": {"type": "point", "shape": "circle", "filled": true, "fill": "#c9e01f", "stroke": "#2a2a2a", "strokeWidth": 1, "opacity": 1},
          "encoding": {"size": {"field": "role", "type": "nominal", "scale": {"domain": ["precursor", "major", "fragment", "minor"], "range": [707, 452, 320, 154]}, "legend": null}}},
        {"data": {"values": [{"t": "Identified:", "mz": 85.9, "i": 0.677}]}, "mark": {"type": "text", "font": "Open Sans", "fontSize": 48, "align": "left", "baseline": "alphabetic", "color": "#1a73c7"}, "encoding": {"text": {"field": "t"}}},
        {"data": {"values": [{"t": "Lxx-Pro-Thr", "mz": 189.4, "i": 0.677}]}, "mark": {"type": "text", "font": "Open Sans", "fontSize": 48, "align": "left", "baseline": "alphabetic", "color": "#ff6a0d"}, "encoding": {"text": {"field": "t"}}},
        {"data": {"values": [{"t": "-H\u2082O", "mz": 410.6, "i": 0.275}]}, "mark": {"type": "text", "font": "Open Sans", "fontSize": 27, "align": "left", "baseline": "alphabetic", "color": "#1a1aee"}, "encoding": {"text": {"field": "t"}}}
      ]
    },
    {"width": 1040, "height": 36, "data": {"values": [{"gap": 1}]}, "mark": {"type": "point", "opacity": 0}, "view": {"stroke": null}},
    {
      "width": 1040, "height": 177,
      "encoding": {
        "x": {"field": "mz", "type": "quantitative", "scale": {"domain": [173.23, 326.9], "nice": false, "zero": false},
          "axis": {"values": [175,180,185,190,195,200,205,210,215,220,225,230,235,240,245,250,255,260,265,270,275,280,285,290,295,300,305,310,315,320,325],
            "format": ".1f", "labelExpr": "datum.value % 25 === 0 && datum.value < 320 ? datum.label : ''",
            "tickSize": {"condition": {"test": "datum.value % 25 === 0", "value": 6}, "value": 4},
            "gridOpacity": {"condition": {"test": "datum.value % 25 === 0", "value": 1}, "value": 0},
            "title": "m/z", "titleFontSize": 11.5, "titleX": 1027, "titleY": 19, "titleAlign": "center", "titleBaseline": "alphabetic"}},
        "y": {"field": "i", "type": "quantitative", "scale": {"domain": [0, 5.71], "nice": false, "zero": false},
          "axis": {"values": [0,0.2,0.4,0.6,0.8,1,1.2,1.4,1.6,1.8,2,2.2,2.4,2.6,2.8,3,3.2,3.4,3.6,3.8,4,4.2,4.4,4.6,4.8,5,5.2,5.4,5.6],
            "format": ".1f", "labelExpr": "abs(datum.value-round(datum.value)) < 0.001 ? datum.label : ''",
            "tickSize": {"condition": {"test": "abs(datum.value-round(datum.value)) < 0.001", "value": 6}, "value": 3},
            "gridOpacity": {"condition": {"test": "abs(datum.value-round(datum.value)) < 0.001", "value": 1}, "value": 0},
            "title": "Inten. (x100,000)", "titleAngle": 0, "titleAlign": "left", "titleBaseline": "alphabetic", "titleX": -11, "titleY": -3, "titleFontSize": 11.5}}
      },
      "layer": [
        {"data": {"name": "p2"}, "mark": {"type": "rule", "color": "black", "strokeWidth": 1.5}, "encoding": {"y2": {"datum": 0}}},
        {"data": {"name": "l2"}, "mark": {"type": "text", "font": "DejaVu Sans", "fontSize": 13.4, "dy": -3, "baseline": "alphabetic", "align": "center", "color": "black"}, "encoding": {"text": {"field": "t"}}},
        {"data": {"values": [{"mz": 324.3676, "i": 0.17, "mz2": 317.5, "i2": 0.48}]}, "mark": {"type": "rule", "color": "#ff2a2a", "strokeWidth": 1}, "encoding": {"x2": {"field": "mz2", "title": "m/z"}, "y2": {"field": "i2", "title": "Inten. (x100,000)"}}},
        {"data": {"name": "cv"}, "mark": {"type": "line", "interpolate": "catmull-rom", "color": "#2030ff", "strokeWidth": 1.3}, "encoding": {"detail": {"field": "id"}, "order": {"field": "k"}}},
        {"data": {"name": "hd"}, "mark": {"type": "line", "color": "#2030ff", "strokeWidth": 1.3}, "encoding": {"detail": {"field": "id"}, "order": {"field": "k"}}},
        {"data": {"name": "arw"}, "mark": {"type": "rule", "color": "black", "strokeWidth": 1.3}, "encoding": {"x2": {"field": "mz0", "title": "m/z"}}},
        {"data": {"name": "arw"}, "mark": {"type": "point", "filled": true, "color": "black", "opacity": 1, "strokeWidth": 0},
          "encoding": {"shape": {"field": "dir", "type": "nominal", "scale": {"domain": ["left", "right"], "range": ["M-1,0L1,-0.7L0.5,0L1,0.7Z", "M1,0L-1,-0.7L-0.5,0L-1,0.7Z"]}, "legend": null}, "size": {"value": 150}}},
        {"data": {"name": "c2"},
          "mark": {"type": "point", "shape": "circle", "filled": true, "fill": "#c9e01f", "stroke": "#2a2a2a", "strokeWidth": 1, "opacity": 1},
          "encoding": {"size": {"field": "role", "type": "nominal", "scale": {"domain": ["precursor", "major", "fragment", "minor"], "range": [707, 452, 320, 154]}, "legend": null}}},
        {"data": {"values": [{"t": "MS/MS 330.2141", "mz": 289.4, "i": 4.71}]}, "mark": {"type": "text", "font": "Open Sans", "fontSize": 28, "align": "left", "baseline": "alphabetic", "color": "black"}, "encoding": {"text": {"field": "t"}}},
        {"data": {"values": [{"t": "-113 = Lxx", "mz": 221.5, "i": 4.94}, {"t": "-101 = Thr", "mz": 254.9, "i": 4.16}]}, "mark": {"type": "text", "font": "Open Sans", "fontSize": 27, "fontWeight": "bold", "align": "left", "baseline": "alphabetic", "color": "#ff6a0d"}, "encoding": {"text": {"field": "t"}}},
        {"data": {"values": [{"t": "y\u2081 ion", "mz": 197.6, "i": 4.03}, {"t": "b\u2082 ion", "mz": 222.3, "i": 0.94}, {"t": "x\u2082 ion", "mz": 256.3, "i": 2.42}, {"t": "b\u2083 ion", "mz": 317.9, "i": 2.39}]}, "mark": {"type": "text", "font": "Open Sans", "fontSize": 21, "align": "left", "baseline": "alphabetic", "color": "#1a1aee"}, "encoding": {"text": {"field": "t"}}},
        {"data": {"values": [{"t": "-CO", "mz": 186.1, "i": 2.45}, {"t": "-CO", "mz": 292.5, "i": 1.81}]}, "mark": {"type": "text", "font": "Open Sans", "fontSize": 27, "fontStyle": "italic", "align": "left", "baseline": "alphabetic", "color": "#1a1aee"}, "encoding": {"text": {"field": "t"}}}
      ]
    },
    {"width": 1040, "height": 34, "data": {"values": [{"gap": 1}]}, "mark": {"type": "point", "opacity": 0}, "view": {"stroke": null}},
    {
      "width": 1042, "height": 193,
      "encoding": {
        "x": {"field": "mz", "type": "quantitative", "scale": {"domain": [57.06, 190.36], "nice": false, "zero": false},
          "axis": {"values": [58,60,62,64,66,68,70,72,74,76,78,80,82,84,86,88,90,92,94,96,98,100,102,104,106,108,110,112,114,116,118,120,122,124,126,128,130,132,134,136,138,140,142,144,146,148,150,152,154,156,158,160,162,164,166,168,170,172,174,176,178,180,182,184,186,188,190],
            "format": "d", "labelExpr": "datum.value % 10 === 0 && datum.value < 185 ? datum.label : ''", "labelFontSize": 14,
            "tickSize": {"condition": {"test": "datum.value % 10 === 0", "value": 6}, "value": 4},
            "gridOpacity": {"condition": {"test": "datum.value % 10 === 0", "value": 1}, "value": 0},
            "title": "m/z", "titleFontSize": 11.5, "titleX": 1030, "titleY": 19, "titleAlign": "center", "titleBaseline": "alphabetic"}},
        "y": {"field": "i", "type": "quantitative", "scale": {"domain": [0.03, 1.717], "nice": false, "zero": false},
          "axis": {"values": [0.05,0.1,0.15,0.2,0.25,0.3,0.35,0.4,0.45,0.5,0.55,0.6,0.65,0.7,0.75,0.8,0.85,0.9,0.95,1,1.05,1.1,1.15,1.2,1.25,1.3,1.35,1.4,1.45,1.5,1.55,1.6,1.65,1.7],
            "format": ".2f", "labelExpr": "abs(datum.value*4-round(datum.value*4)) < 0.001 ? datum.label : ''", "labelFontSize": 13,
            "tickSize": {"condition": {"test": "abs(datum.value*4-round(datum.value*4)) < 0.001", "value": 6}, "value": 3},
            "gridOpacity": {"condition": {"test": "abs(datum.value*4-round(datum.value*4)) < 0.001", "value": 1}, "value": 0},
            "title": "Inten. (x100,000)", "titleAngle": 0, "titleAlign": "left", "titleBaseline": "alphabetic", "titleX": -11, "titleY": -3, "titleFontSize": 11.5}}
      },
      "layer": [
        {"data": {"name": "p3"}, "mark": {"type": "rule", "color": "black", "strokeWidth": 1.5, "clip": true}, "encoding": {"y2": {"datum": 0}}},
        {"data": {"name": "l3"}, "mark": {"type": "text", "font": "DejaVu Sans", "fontSize": 11, "dy": -3, "baseline": "alphabetic", "align": "center", "color": "black"}, "encoding": {"text": {"field": "t"}}},
        {"data": {"values": [{"mz": 57.4526, "i": 0.17, "mz2": 64.0, "i2": 0.27}]}, "mark": {"type": "rule", "color": "#ff2a2a", "strokeWidth": 1}, "encoding": {"x2": {"field": "mz2", "title": "m/z"}, "y2": {"field": "i2", "title": "Inten. (x100,000)"}}},
        {"data": {"values": [{"mz": 114.1, "i": 0.25, "role": "minor"}]},
          "mark": {"type": "point", "shape": "circle", "filled": true, "fill": "#c9e01f", "stroke": "#2a2a2a", "strokeWidth": 1, "opacity": 1},
          "encoding": {"size": {"field": "role", "type": "nominal", "scale": {"domain": ["precursor", "major", "fragment", "minor"], "range": [707, 452, 320, 154]}, "legend": null}}}
      ]
    },
    {"width": 1040, "height": 89, "data": {"values": [{"gap": 1}]}, "mark": {"type": "point", "opacity": 0}, "view": {"stroke": null}},
    {
      "width": 1028, "height": 164,
      "encoding": {
        "x": {"field": "mz", "type": "quantitative", "scale": {"domain": [58.12, 497.4], "nice": false, "zero": false},
          "axis": {"values": [60,70,80,90,100,110,120,130,140,150,160,170,180,190,200,210,220,230,240,250,260,270,280,290,300,310,320,330,340,350,360,370,380,390,400,410,420,430,440,450,460,470,480,490],
            "format": "d", "labelExpr": "datum.value % 50 === 0 ? datum.label : ''", "domainWidth": 3, "domainColor": "#444",
            "tickSize": {"condition": {"test": "datum.value % 50 === 0", "value": 6}, "value": 4},
            "gridOpacity": {"condition": {"test": "datum.value % 50 === 0", "value": 1}, "value": 0},
            "title": "m/z", "titleFontSize": 11.5, "titleX": 1016, "titleY": 19, "titleAlign": "center", "titleBaseline": "alphabetic"}},
        "y": {"field": "i", "type": "quantitative", "scale": {"domain": [0, 3.59], "nice": false, "zero": false},
          "axis": {"values": [0,0.2,0.4,0.6,0.8,1,1.2,1.4,1.6,1.8,2,2.2,2.4,2.6,2.8,3,3.2,3.4],
            "format": ".1f", "labelExpr": "abs(datum.value-round(datum.value)) < 0.001 ? datum.label : ''",
            "tickSize": {"condition": {"test": "abs(datum.value-round(datum.value)) < 0.001", "value": 6}, "value": 3},
            "gridOpacity": {"condition": {"test": "abs(datum.value-round(datum.value)) < 0.001", "value": 1}, "value": 0},
            "title": "Inten. (x1,000,000)", "titleAngle": 0, "titleAlign": "left", "titleBaseline": "alphabetic", "titleX": -11, "titleY": -3, "titleFontSize": 11.5}}
      },
      "layer": [
        {"data": {"name": "p4"}, "mark": {"type": "rule", "color": "black", "strokeWidth": 1.3}, "encoding": {"y2": {"datum": 0}}},
        {"data": {"name": "l4"}, "mark": {"type": "text", "font": "DejaVu Sans", "fontSize": 12.6, "dy": -3, "baseline": "alphabetic", "align": "center", "color": "black"}, "encoding": {"text": {"field": "t"}}},
        {"data": {"values": [{"t": "Standard:", "mz": 88.0, "i": 1.5}]}, "mark": {"type": "text", "font": "Open Sans", "fontSize": 46, "align": "left", "baseline": "alphabetic", "color": "#4a7de5"}, "encoding": {"text": {"field": "t"}}},
        {"data": {"values": [{"t": "Ile-Pro-Thr", "mz": 183.3, "i": 1.5}]}, "mark": {"type": "text", "font": "Open Sans", "fontSize": 46, "align": "left", "baseline": "alphabetic", "color": "#ff6a0d"}, "encoding": {"text": {"field": "t"}}}
      ]
    },
    {"width": 1040, "height": 43, "data": {"values": [{"gap": 1}]}, "mark": {"type": "point", "opacity": 0}, "view": {"stroke": null}},
    {
      "width": 1033, "height": 164,
      "encoding": {
        "x": {"field": "mz", "type": "quantitative", "scale": {"domain": [146.55, 344.55], "nice": false, "zero": false},
          "axis": {"values": [150,155,160,165,170,175,180,185,190,195,200,205,210,215,220,225,230,235,240,245,250,255,260,265,270,275,280,285,290,295,300,305,310,315,320,325,330,335,340],
            "format": ".1f", "labelExpr": "datum.value % 25 === 0 ? datum.label : ''", "domainWidth": 2, "domainColor": "#444",
            "tickSize": {"condition": {"test": "datum.value % 25 === 0", "value": 6}, "value": 4},
            "gridOpacity": {"condition": {"test": "datum.value % 25 === 0", "value": 1}, "value": 0},
            "title": "m/z", "titleFontSize": 11.5, "titleX": 1020, "titleY": 19, "titleAlign": "center", "titleBaseline": "alphabetic"}},
        "y": {"field": "i", "type": "quantitative", "scale": {"domain": [0, 4.97], "nice": false, "zero": false},
          "axis": {"values": [0,0.2,0.4,0.6,0.8,1,1.2,1.4,1.6,1.8,2,2.2,2.4,2.6,2.8,3,3.2,3.4,3.6,3.8,4,4.2,4.4,4.6,4.8],
            "format": ".1f", "labelExpr": "abs(datum.value-round(datum.value)) < 0.001 ? datum.label : ''",
            "tickSize": {"condition": {"test": "abs(datum.value-round(datum.value)) < 0.001", "value": 6}, "value": 3},
            "gridOpacity": {"condition": {"test": "abs(datum.value-round(datum.value)) < 0.001", "value": 1}, "value": 0},
            "title": "Inten. (x100,000)", "titleAngle": 0, "titleAlign": "left", "titleBaseline": "alphabetic", "titleX": -11, "titleY": -3, "titleFontSize": 11.5}}
      },
      "layer": [
        {"data": {"name": "p5"}, "mark": {"type": "rule", "color": "black", "strokeWidth": 1.3}, "encoding": {"y2": {"datum": 0}}},
        {"data": {"name": "l5"}, "mark": {"type": "text", "font": "DejaVu Sans", "fontSize": 12.6, "dy": -3, "baseline": "alphabetic", "align": "center", "color": "black"}, "encoding": {"text": {"field": "t"}}},
        {"data": {"values": [{"mz": 150.2918, "i": 0.42, "mz2": 160.2, "i2": 0.7}, {"mz": 343.5245, "i": 0.17, "mz2": 335.5, "i2": 0.5}]}, "mark": {"type": "rule", "color": "#ff2a2a", "strokeWidth": 1}, "encoding": {"x2": {"field": "mz2", "title": "m/z"}, "y2": {"field": "i2", "title": "Inten. (x100,000)"}}}
      ]
    },
    {"width": 1040, "height": 51, "data": {"values": [{"gap": 1}]}, "mark": {"type": "point", "opacity": 0}, "view": {"stroke": null}},
    {
      "width": 1040, "height": 164,
      "encoding": {
        "x": {"field": "mz", "type": "quantitative", "scale": {"domain": [55.87, 501.4], "nice": false, "zero": false},
          "axis": {"values": [60,70,80,90,100,110,120,130,140,150,160,170,180,190,200,210,220,230,240,250,260,270,280,290,300,310,320,330,340,350,360,370,380,390,400,410,420,430,440,450,460,470,480,490,500],
            "format": "d", "labelExpr": "datum.value % 50 === 0 && datum.value < 480 ? datum.label : ''", "domainWidth": 2, "domainColor": "#444",
            "tickSize": {"condition": {"test": "datum.value % 50 === 0", "value": 6}, "value": 4},
            "gridOpacity": {"condition": {"test": "datum.value % 50 === 0", "value": 1}, "value": 0},
            "title": "m/z", "titleFontSize": 11.5, "titleX": 1025, "titleY": 19, "titleAlign": "center", "titleBaseline": "alphabetic"}},
        "y": {"field": "i", "type": "quantitative", "scale": {"domain": [0, 1.444], "nice": false, "zero": false},
          "axis": {"values": [0,0.05,0.1,0.15,0.2,0.25,0.3,0.35,0.4,0.45,0.5,0.55,0.6,0.65,0.7,0.75,0.8,0.85,0.9,0.95,1,1.05,1.1,1.15,1.2,1.25,1.3,1.35,1.4],
            "format": ".2f", "labelExpr": "abs(datum.value*4-round(datum.value*4)) < 0.001 ? datum.label : ''",
            "tickSize": {"condition": {"test": "abs(datum.value*4-round(datum.value*4)) < 0.001", "value": 6}, "value": 3},
            "gridOpacity": {"condition": {"test": "abs(datum.value*4-round(datum.value*4)) < 0.001", "value": 1}, "value": 0},
            "title": "Inten. (x1,000,000)", "titleAngle": 0, "titleAlign": "left", "titleBaseline": "alphabetic", "titleX": -11, "titleY": -3, "titleFontSize": 11.5}}
      },
      "layer": [
        {"data": {"name": "p6"}, "mark": {"type": "rule", "color": "black", "strokeWidth": 1.3}, "encoding": {"y2": {"datum": 0}}},
        {"data": {"name": "l6"}, "mark": {"type": "text", "font": "DejaVu Sans", "fontSize": 12.6, "dy": -3, "baseline": "alphabetic", "align": "center", "color": "black"}, "encoding": {"text": {"field": "t"}}},
        {"data": {"values": [{"t": "Standard: Leu-Pro-Thr", "mz": 73.9, "i": 0.7}]}, "mark": {"type": "text", "font": "Open Sans", "fontSize": 46, "align": "left", "baseline": "alphabetic", "color": "#a8a8a8"}, "encoding": {"text": {"field": "t"}}}
      ]
    },
    {"width": 1040, "height": 27, "data": {"values": [{"gap": 1}]}, "mark": {"type": "point", "opacity": 0}, "view": {"stroke": null}},
    {
      "width": 1040, "height": 165,
      "encoding": {
        "x": {"field": "mz", "type": "quantitative", "scale": {"domain": [148.63, 351.76], "nice": false, "zero": false},
          "axis": {"values": [150,155,160,165,170,175,180,185,190,195,200,205,210,215,220,225,230,235,240,245,250,255,260,265,270,275,280,285,290,295,300,305,310,315,320,325,330,335,340,345,350],
            "format": ".1f", "labelExpr": "datum.value % 25 === 0 && datum.value < 340 ? datum.label : ''", "domainWidth": 2, "domainColor": "#444",
            "labelFontSize": 14, "labelPadding": 0,
            "tickSize": {"condition": {"test": "datum.value % 25 === 0", "value": 6}, "value": 4},
            "gridOpacity": {"condition": {"test": "datum.value % 25 === 0", "value": 1}, "value": 0},
            "title": "m/z", "titleFontSize": 11.5, "titleX": 1023, "titleY": 16, "titleAlign": "center", "titleBaseline": "alphabetic"}},
        "y": {"field": "i", "type": "quantitative", "scale": {"domain": [0, 5.5], "nice": false, "zero": false},
          "axis": {"values": [0,0.2,0.4,0.6,0.8,1,1.2,1.4,1.6,1.8,2,2.2,2.4,2.6,2.8,3,3.2,3.4,3.6,3.8,4,4.2,4.4,4.6,4.8,5,5.2,5.4],
            "format": ".1f", "labelExpr": "abs(datum.value-round(datum.value)) < 0.001 ? datum.label : ''",
            "tickSize": {"condition": {"test": "abs(datum.value-round(datum.value)) < 0.001", "value": 6}, "value": 3},
            "gridOpacity": {"condition": {"test": "abs(datum.value-round(datum.value)) < 0.001", "value": 1}, "value": 0},
            "title": "Inten. (x100,000)", "titleAngle": 0, "titleAlign": "left", "titleBaseline": "alphabetic", "titleX": -11, "titleY": -3, "titleFontSize": 11.5}}
      },
      "layer": [
        {"data": {"name": "p7"}, "mark": {"type": "rule", "color": "black", "strokeWidth": 1.3}, "encoding": {"y2": {"datum": 0}}},
        {"data": {"name": "l7"}, "mark": {"type": "text", "font": "DejaVu Sans", "fontSize": 13, "dy": -3, "baseline": "alphabetic", "align": "center", "color": "black"}, "encoding": {"text": {"field": "t"}}},
        {"data": {"values": [{"mz": 149.0667, "i": 0.18, "mz2": 160.5, "i2": 0.52}]}, "mark": {"type": "rule", "color": "#ff2a2a", "strokeWidth": 1}, "encoding": {"x2": {"field": "mz2", "title": "m/z"}, "y2": {"field": "i2", "title": "Inten. (x100,000)"}}}
      ]
    }
  ]
}
